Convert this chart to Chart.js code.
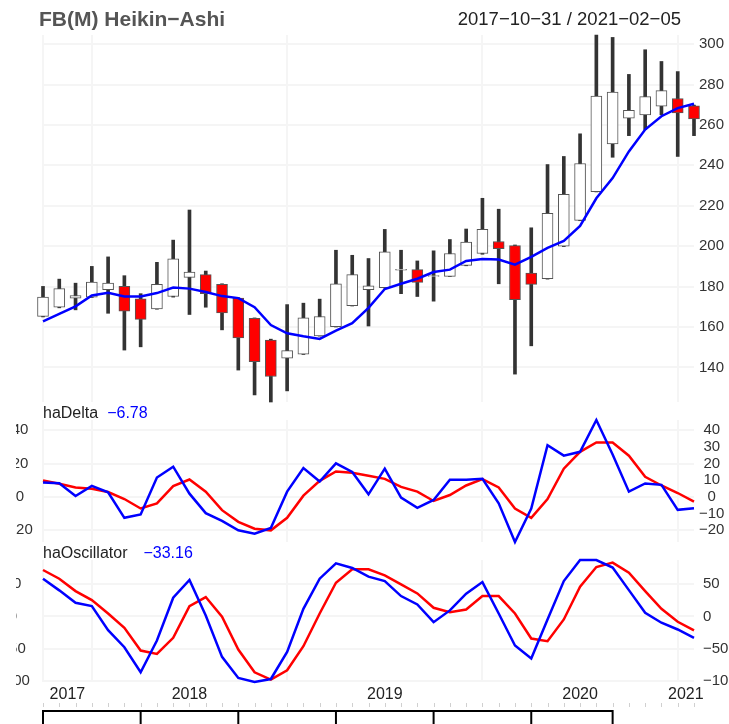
<!DOCTYPE html>
<html>
<head>
<meta charset="utf-8">
<script src="https://cdn.jsdelivr.net/npm/chart.js@4.4.1/dist/chart.umd.min.js"></script>
<style>
  html, body { margin: 0; padding: 0; background: #fff; }
  #wrap { position: relative; width: 729px; height: 724px; overflow: hidden; }
  canvas { position: absolute; left: 0; }
</style>
</head>
<body>
<div id="wrap">
  <canvas id="main-chart" width="729" height="405" style="top:0"></canvas>
  <canvas id="delta-chart" width="729" height="142" style="top:403px"></canvas>
  <canvas id="osc-chart" width="729" height="181" style="top:543px"></canvas>
</div>
<script>
const chartTitle = "FB(M) Heikin\u2212Ashi";
const dateRange = "2017\u221210\u221231 / 2021\u221202\u221205";

const months = [
  "2017-10", "2017-11", "2017-12",
  "2018-01", "2018-02", "2018-03", "2018-04", "2018-05", "2018-06", "2018-07", "2018-08", "2018-09", "2018-10", "2018-11", "2018-12",
  "2019-01", "2019-02", "2019-03", "2019-04", "2019-05", "2019-06", "2019-07", "2019-08", "2019-09", "2019-10", "2019-11", "2019-12",
  "2020-01", "2020-02", "2020-03", "2020-04", "2020-05", "2020-06", "2020-07", "2020-08", "2020-09", "2020-10", "2020-11", "2020-12",
  "2021-01", "2021-02"
];

// heikin-ashi candles
const haOpen  = [165.3, 169.8, 174.3, 174.8, 178.5, 180.1, 174.0, 169.0, 175.1, 184.6, 185.9, 181.1, 174.3, 164.3, 153.6, 144.6, 146.6, 155.6, 160.2, 170.6, 178.5, 179.5, 188.1, 188.4, 185.0, 185.1, 190.5, 196.4, 202.3, 200.3, 186.7, 183.9, 200.0, 212.8, 227.0, 250.6, 263.3, 265.0, 269.3, 273.1, 269.5];
const haClose = [174.8, 179.0, 175.5, 182.2, 181.7, 167.8, 163.8, 181.1, 193.7, 187.2, 176.5, 167.0, 154.6, 142.8, 135.5, 148.3, 164.5, 165.2, 181.4, 185.9, 180.4, 197.2, 188.6, 182.1, 185.4, 196.4, 202.0, 208.3, 198.8, 173.5, 181.1, 216.3, 225.7, 240.9, 274.3, 276.3, 267.2, 274.0, 277.0, 266.0, 263.0];
const haHigh  = [180.1, 183.7, 181.7, 190.0, 194.7, 185.4, 176.5, 192.0, 203.0, 217.9, 187.7, 181.4, 174.5, 164.5, 154.0, 171.1, 171.8, 173.8, 198.0, 195.5, 193.9, 208.3, 198.0, 192.7, 197.7, 203.3, 208.5, 223.7, 218.3, 200.6, 209.1, 240.4, 244.4, 255.6, 304.5, 303.3, 285.0, 297.2, 291.4, 286.4, 269.8];
const haLow   = [165.0, 169.5, 168.5, 174.6, 166.8, 148.6, 150.2, 168.8, 174.8, 166.2, 169.8, 158.6, 138.7, 126.4, 122.9, 128.4, 146.4, 155.5, 160.0, 170.4, 160.5, 179.3, 176.5, 175.1, 172.8, 185.0, 190.3, 196.0, 181.4, 136.7, 150.7, 183.7, 199.8, 212.6, 226.8, 244.0, 254.7, 257.7, 265.0, 244.4, 254.7];
const haMA    = [162.8, 166.5, 170.2, 175.6, 177.0, 175.1, 175.1, 176.8, 179.5, 179.0, 177.3, 175.3, 174.3, 169.8, 161.0, 156.9, 155.4, 154.1, 158.2, 161.9, 169.5, 178.8, 181.4, 183.9, 187.2, 188.4, 192.7, 193.7, 193.4, 190.9, 194.7, 199.2, 202.6, 210.0, 223.7, 233.7, 246.9, 257.7, 264.3, 268.3, 270.5];

// haDelta
const deltaLine   = [8.7, 8.3, 0.6, 6.7, 2.8, -12.5, -10.5, 11.7, 18.2, 2.0, -9.7, -14.3, -20.0, -22.0, -18.6, 3.2, 17.4, 9.3, 20.2, 15.0, 1.6, 17.0, -0.4, -6.5, -1.8, 10.3, 10.3, 10.9, -3.8, -27.0, -6.9, 31.1, 24.8, 27.1, 46.2, 25.5, 3.2, 8.1, 7.3, -7.7, -6.78];
const deltaSignal = [9.9, 7.9, 5.7, 5.0, 3.0, -1.2, -6.9, -3.8, 6.5, 10.5, 3.2, -7.9, -14.9, -19.0, -20.0, -12.5, 0.8, 9.7, 15.3, 14.5, 12.7, 10.9, 6.1, 3.2, -2.4, 1.2, 6.9, 10.7, 5.7, -6.9, -12.5, -1.2, 17.0, 27.1, 32.7, 32.7, 24.8, 12.1, 6.9, 2.4, -2.8];

// haOscillator
const oscLine   = [58.2, 40.2, 21.1, 16.0, -21.1, -47.4, -86.0, -37.1, 28.9, 56.2, 1.5, -62.3, -94.8, -101.0, -96.4, -54.6, 11.8, 58.2, 81.9, 74.7, 61.3, 54.6, 31.4, 18.5, -8.8, 9.3, 35.1, 53.0, 4.6, -44.8, -64.9, -4.6, 54.6, 87.0, 87.0, 75.3, 40.6, 5.7, -9.7, -20.1, -33.16];
const oscSignal = [71.6, 58.2, 39.1, 25.2, 4.6, -17.5, -52.6, -57.7, -32.9, 16.0, 29.9, -0.5, -51.0, -86.0, -97.4, -83.0, -45.9, 4.6, 52.0, 72.6, 72.6, 63.4, 49.5, 35.5, 13.4, 6.7, 10.8, 31.4, 31.4, 4.6, -34.0, -38.1, -4.6, 45.9, 76.2, 83.0, 67.5, 39.1, 11.9, -8.2, -21.6];

// axes
const priceTicks = [140, 160, 180, 200, 220, 240, 260, 280, 300];
const deltaTicks = [-20, -10, 0, 10, 20, 30, 40];
const deltaLeftTicks = [-20, 0, 20, 40];
const oscTicks = [-100, -50, 0, 50];
const yearLabels = ["2017", "2018", "2019", "2020", "2021"];
const yearStartIdx = [0, 3, 15, 27, 39];
const majorTickIdx = [0, 6, 12, 18, 24, 30, 35];

const GRID = "#f5f5f5";
const FONT = "Liberation Sans";
const minus = v => String(v).replace("-", "\u2212");

Chart.defaults.font.family = FONT;
Chart.defaults.animation = false;

function xScale() {
  return {
    type: "category",
    offset: false,
    ticks: { display: false },
    grid: {
      offset: false,
      drawTicks: false,
      lineWidth: 2,
      color: c => yearStartIdx.includes(c.index) ? GRID : "transparent"
    },
    border: { display: false },
    afterFit: s => { s.height = 0; s.paddingLeft = 0; s.paddingRight = 0; }
  };
}

function yScale(ticks, min, max, opts) {
  return {
    position: "right",
    min: min,
    max: max,
    afterBuildTicks: s => { s.ticks = ticks.map(v => ({ value: v })); },
    afterFit: s => { s.width = 35; s.paddingTop = 0; s.paddingBottom = 0; },
    ticks: {
      autoSkip: false,
      padding: opts.padding,
      crossAlign: opts.align || "near",
      color: "#333",
      font: { size: 15 },
      callback: v => minus(v)
    },
    grid: { drawTicks: false, lineWidth: 2, color: opts.gridColor || GRID },
    border: { display: false }
  };
}

const basePlugins = { legend: { display: false }, tooltip: { enabled: false } };
const layout = (top, bottom) => ({ padding: { left: 43, right: 0, top: top, bottom: bottom } });

// labels drawn left of a lower panel, clipped like the original
function leftLabels(chart, ticks, cx) {
  const { ctx, scales } = chart;
  ctx.save();
  ctx.beginPath();
  ctx.rect(16, 0, 40, chart.height);
  ctx.clip();
  ctx.font = "15px " + FONT;
  ctx.fillStyle = "#333";
  ctx.textAlign = "center";
  ctx.textBaseline = "middle";
  ticks.forEach(v => ctx.fillText(minus(v), cx, scales.y.getPixelForValue(v)));
  ctx.restore();
}

function panelTitle(chart, name, value, gap) {
  const ctx = chart.ctx;
  ctx.save();
  ctx.font = "16px " + FONT;
  ctx.textBaseline = "middle";
  ctx.textAlign = "left";
  ctx.fillStyle = "#222";
  ctx.fillText(name, 43, 11);
  const w = ctx.measureText(name).width;
  ctx.fillStyle = "#0000FF";
  ctx.fillText(minus(value.toFixed(2)), 43 + w + gap, 11);
  ctx.restore();
}

// main price panel
new Chart(document.getElementById("main-chart"), {
  type: "bar",
  data: {
    labels: months,
    datasets: [
      {
        type: "line",
        data: haMA,
        borderColor: "#0000FF",
        borderWidth: 2.5,
        pointRadius: 0,
        order: 1
      },
      {
        data: haOpen.map((o, i) => [o, haClose[i]]),
        backgroundColor: haOpen.map((o, i) => haClose[i] >= o ? "#FFFFFF" : "#FF0000"),
        borderColor: "#555555",
        borderWidth: 1,
        borderSkipped: false,
        barThickness: 11,
        grouped: false,
        clip: false,
        order: 2
      },
      {
        data: haLow.map((l, i) => [l, haHigh[i]]),
        backgroundColor: "#333333",
        barThickness: 3,
        grouped: false,
        clip: false,
        order: 3
      }
    ]
  },
  options: {
    responsive: false,
    events: [],
    layout: layout(35, 3),
    plugins: basePlugins,
    scales: {
      x: xScale(),
      y: yScale(priceTicks, Math.min(...haLow), Math.max(...haHigh), { padding: 5 })
    }
  },
  plugins: [{
    id: "titles",
    afterDraw(chart) {
      const ctx = chart.ctx;
      ctx.save();
      ctx.textBaseline = "middle";
      ctx.font = "bold 21px " + FONT;
      ctx.fillStyle = "#555";
      ctx.textAlign = "left";
      ctx.fillText(chartTitle, 39, 20);
      ctx.font = "18.5px " + FONT;
      ctx.fillStyle = "#222";
      ctx.textAlign = "right";
      ctx.fillText(dateRange, 681, 20);
      ctx.restore();
    }
  }]
});

// haDelta panel
new Chart(document.getElementById("delta-chart"), {
  type: "line",
  data: {
    labels: months,
    datasets: [
      { data: deltaLine, borderColor: "#0000FF", borderWidth: 2.5, pointRadius: 0, clip: false },
      { data: deltaSignal, borderColor: "#FF0000", borderWidth: 2.5, pointRadius: 0, clip: false }
    ]
  },
  options: {
    responsive: false,
    events: [],
    layout: layout(17, 3),
    plugins: basePlugins,
    scales: {
      x: xScale(),
      y: yScale(deltaTicks, Math.min(...deltaLine, ...deltaSignal), Math.max(...deltaLine, ...deltaSignal), {
        padding: 5,
        align: "center",
        gridColor: c => c.tick && c.tick.value % 20 === 0 ? GRID : "transparent"
      })
    }
  },
  plugins: [{
    id: "deltaText",
    afterDraw(chart) {
      panelTitle(chart, "haDelta", deltaLine[deltaLine.length - 1], 9);
      leftLabels(chart, deltaLeftTicks, 20);
    }
  }]
});

// haOscillator panel with the time axis
new Chart(document.getElementById("osc-chart"), {
  type: "line",
  data: {
    labels: months,
    datasets: [
      { data: oscLine, borderColor: "#0000FF", borderWidth: 2.5, pointRadius: 0, clip: false },
      { data: oscSignal, borderColor: "#FF0000", borderWidth: 2.5, pointRadius: 0, clip: false }
    ]
  },
  options: {
    responsive: false,
    events: [],
    layout: layout(17, 42),
    plugins: basePlugins,
    scales: {
      x: xScale(),
      y: yScale(oscTicks, Math.min(...oscLine, ...oscSignal), Math.max(...oscLine, ...oscSignal), { padding: 9 })
    }
  },
  plugins: [{
    id: "oscText",
    afterDraw(chart) {
      const { ctx, scales } = chart;
      const xs = scales.x;
      const base = chart.chartArea.bottom;
      panelTitle(chart, "haOscillator", oscLine[oscLine.length - 1], 16);
      leftLabels(chart, oscTicks, 13);

      ctx.save();
      // year labels centred between year starts
      ctx.font = "16px " + FONT;
      ctx.fillStyle = "#222";
      ctx.textAlign = "center";
      ctx.textBaseline = "middle";
      yearLabels.forEach((y, i) => {
        const a = xs.getPixelForValue(yearStartIdx[i]);
        const b = i + 1 < yearStartIdx.length ? xs.getPixelForValue(yearStartIdx[i + 1]) : xs.getPixelForValue(months.length - 1);
        ctx.fillText(y, (a + b) / 2, base + 13);
      });
      // monthly minor ticks
      ctx.strokeStyle = "#d0d0d0";
      ctx.lineWidth = 1;
      months.forEach((m, i) => {
        const x = Math.round(xs.getPixelForValue(i)) + 0.5;
        ctx.beginPath();
        ctx.moveTo(x, base + 21);
        ctx.lineTo(x, base + 25);
        ctx.stroke();
      });
      // major axis line
      ctx.strokeStyle = "#000";
      ctx.lineWidth = 2;
      const x0 = xs.getPixelForValue(majorTickIdx[0]);
      const x1 = xs.getPixelForValue(majorTickIdx[majorTickIdx.length - 1]);
      ctx.beginPath();
      ctx.moveTo(x0, base + 29);
      ctx.lineTo(x1, base + 29);
      ctx.stroke();
      majorTickIdx.forEach(i => {
        const x = xs.getPixelForValue(i);
        ctx.beginPath();
        ctx.moveTo(x, base + 28);
        ctx.lineTo(x, chart.height);
        ctx.stroke();
      });
      ctx.restore();
    }
  }]
});
</script>
</body>
</html>
